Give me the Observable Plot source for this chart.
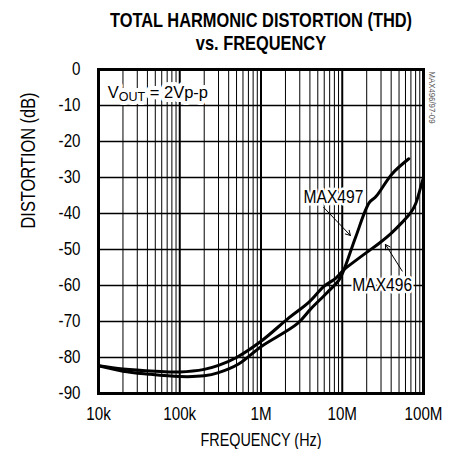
<!DOCTYPE html>
<html><head><meta charset="utf-8">
<script src="https://cdn.jsdelivr.net/npm/d3@7"></script>
<script src="https://cdn.jsdelivr.net/npm/@observablehq/plot@0.6"></script>
<style>
body{margin:0;background:#fff;}
#title{position:relative;width:451px;height:50px;font:bold 20.5px "Liberation Sans",Arial,sans-serif;color:#000;}
#title div{position:absolute;left:260.5px;white-space:nowrap;line-height:1;transform:translateX(-50%) scaleX(0.8);}
</style></head><body>
<div id="title"><div style="top:9.7px">TOTAL HARMONIC DISTORTION (THD)</div><div style="top:33.1px">vs. FREQUENCY</div></div>
<div id="chart"></div>
<script>
const FONT = '"Liberation Sans",Arial,sans-serif';

// Axis ticks
const freqTicks = [1e4, 1e5, 1e6, 1e7, 1e8];
const freqTickLabels = ["10k", "100k", "1M", "10M", "100M"];
const dbTicks = [0, -10, -20, -30, -40, -50, -60, -70, -80, -90];
const minorMultipliers = [2, 3, 4, 5, 6, 7, 8, 9];

// MAX496 series
const max496Freq = [1e4, 2e4, 5e4, 1e5, 2e5, 3e5, 5e5, 1e6, 2.2e6, 3.9e6, 5.9e6, 8.3e6, 1.05e7, 1.46e7, 2e7, 2.8e7, 4e7, 5.5e7, 7e7, 8e7, 9.4e7, 1e8];
const max496Db   = [-82.3, -83.2, -83.8, -84.0, -83.3, -82.2, -80, -75.5, -69, -64.6, -60.3, -58, -55.6, -53.1, -50.8, -48.4, -45.5, -42.4, -39.7, -37.3, -32, -30];

// MAX497 series
const max497Freq = [1e4, 2e4, 4e4, 1e5, 2e5, 3e5, 5.3e5, 1e6, 2.8e6, 4.1e6, 6.5e6, 9.1e6, 1.05e7, 1.46e7, 2.15e7, 2.6e7, 4.1e7, 6.6e7];
const max497Db   = [-82.3, -83.8, -84.6, -85.3, -85.1, -84.2, -81.8, -77, -70.6, -66.5, -62, -58.5, -55.6, -46.6, -37, -35.3, -29, -24.8];

// Annotations
const labelText = ["VOUT = 2Vp-p", "MAX497", "MAX496"];
const labelFreq = [1.3e4, 7.8e6, 3.1e7];
const labelDb   = [-6.5, -35.3, -59.8];
const arrowFrom = [[5.9e6, -38.3], [5.47e7, -56.0]];
const arrowTo   = [[1.26e7, -46.1], [3.4e7, -48.6]];

const s496 = max496Freq.map((f, i) => ({f, db: max496Db[i]}));
const s497 = max497Freq.map((f, i) => ({f, db: max497Db[i]}));
const minorTicks = freqTicks.slice(0, -1).flatMap(d => minorMultipliers.map(m => d * m));
const labels = labelText.map((t, i) => ({t, f: labelFreq[i], db: labelDb[i]}));
const arrows = arrowFrom.map((a, i) => ({f1: a[0], d1: a[1], f2: arrowTo[i][0], d2: arrowTo[i][1]}));

const chart = Plot.plot({
  width: 451,
  height: 399,
  marginTop: 19,
  marginBottom: 56,
  marginLeft: 98,
  marginRight: 28,
  style: {fontFamily: FONT, fontSize: "18.5px", color: "#000", background: "#fff", overflow: "visible"},
  x: {type: "log", domain: [1e4, 1e8]},
  y: {domain: [-90, 0]},
  marks: [
    Plot.ruleX(minorTicks, {stroke: "#000", strokeWidth: 1}),
    Plot.ruleX(freqTicks, {stroke: "#000", strokeWidth: 2}),
    Plot.ruleY(dbTicks, {stroke: "#000", strokeWidth: 1.3}),
    Plot.line(s496, {x: "f", y: "db", stroke: "#000", strokeWidth: 3, curve: "catmull-rom"}),
    Plot.line(s497, {x: "f", y: "db", stroke: "#000", strokeWidth: 3, curve: "catmull-rom"}),
    Plot.arrow(arrows, {x1: "f1", y1: "d1", x2: "f2", y2: "d2", stroke: "#000", strokeWidth: 1, headLength: 8}),
    Plot.text(labels.slice(0, 1), {x: "f", y: "db", text: "t", textAnchor: "start", fill: "#000", stroke: "#fff", strokeWidth: 8, fontSize: 16.5}),
    Plot.text(labels.slice(1), {x: "f", y: "db", text: "t", fill: "#000", stroke: "#fff", strokeWidth: 5, fontSize: 19}),
    Plot.frame({stroke: "#000", strokeWidth: 3}),
    Plot.axisX({ticks: freqTicks, tickFormat: d => freqTickLabels[freqTicks.indexOf(d)], tickSize: 0, tickPadding: 13, label: null, fontSize: 18.5}),
    Plot.axisY({ticks: dbTicks, tickFormat: d => String(d), tickSize: 0, tickPadding: 18, label: null, fontSize: 18.5}),
    Plot.text(["FREQUENCY (Hz)"], {frameAnchor: "bottom", dy: 47, lineAnchor: "middle", fontSize: 17.5, fill: "#000"}),
    Plot.text(["DISTORTION (dB)"], {frameAnchor: "left", dx: -70, dy: -3, rotate: -90, lineAnchor: "middle", fontSize: 20, fill: "#000"}),
    Plot.text(["MAX496/97-09"], {frameAnchor: "top-right", dx: 9, dy: 2, rotate: 90, textAnchor: "start", lineAnchor: "middle", fontSize: 9.5, fill: "#555"})
  ]
});
document.getElementById("chart").appendChild(chart);

// Narrow (condensed) look, like the original's Arial Narrow lettering
chart.querySelectorAll("text").forEach(t => {
  if (t.textContent === "VOUT = 2Vp-p") return;
  const L = t.getComputedTextLength();
  if (L > 0) {
    t.setAttribute("textLength", (L * 0.82).toFixed(2));
    t.setAttribute("lengthAdjust", "spacingAndGlyphs");
  }
});

// Subscript "OUT" in the VOUT annotation
const ns = "http://www.w3.org/2000/svg";
chart.querySelectorAll("text").forEach(t => {
  if (t.textContent === "VOUT = 2Vp-p") {
    t.textContent = "";
    const a = document.createElementNS(ns, "tspan"); a.textContent = "V";
    const b = document.createElementNS(ns, "tspan"); b.textContent = "OUT"; b.setAttribute("dy", "3"); b.setAttribute("font-size", "12.5");
    const c = document.createElementNS(ns, "tspan"); c.textContent = " = 2Vp-p"; c.setAttribute("dy", "-3");
    t.append(a, b, c);
  }
});
</script>
</body></html>
